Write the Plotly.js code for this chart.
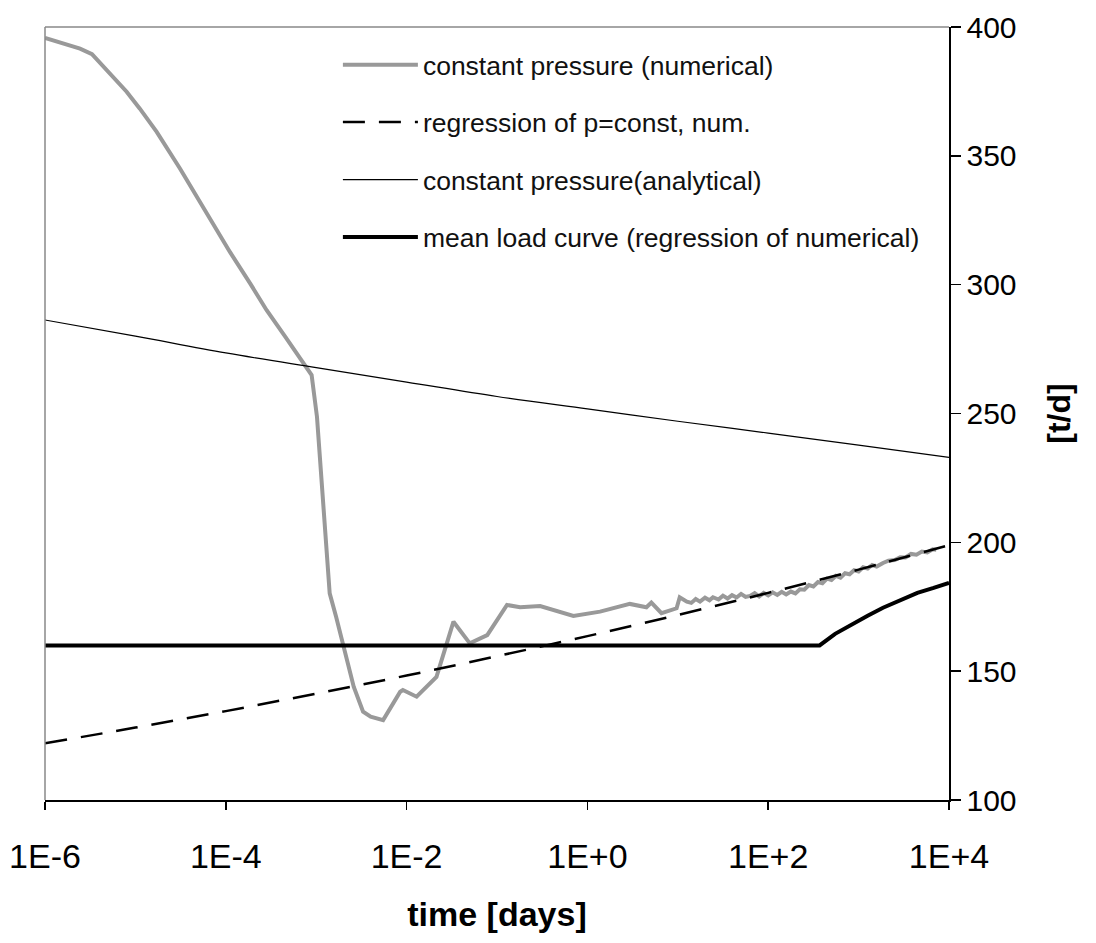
<!DOCTYPE html>
<html>
<head>
<meta charset="utf-8">
<script src="https://cdn.plot.ly/plotly-3.0.1.min.js"></script>
<style>
  html, body { margin: 0; padding: 0; background: #ffffff; }
  #chart { width: 1096px; height: 943px; }
</style>
</head>
<body>
<div id="chart"></div>
<script>
// ---- data ----
const seriesNames = [
  "constant pressure (numerical)",
  "regression of p=const, num.",
  "constant pressure(analytical)",
  "mean load curve (regression of numerical)"
];

// constant pressure (numerical) – time [days], rate [t/d]
const numTime = [
  1e-6, 1.54e-6, 2.44e-6, 3.31e-6, 4.61e-6, 8.0e-6, 1.12e-5, 1.72e-5, 3.11e-5, 4.56e-5,
  6.68e-5, 1.11e-4, 1.85e-4, 2.83e-4, 4.56e-4, 7.19e-4, 8.9e-4, 1.02e-3, 1.15e-3, 1.26e-3,
  1.35e-3, 1.41e-3, 1.66e-3, 2.0e-3, 2.6e-3, 3.3e-3, 4.0e-3, 5.5e-3, 8.5e-3, 9.1e-3,
  1.29e-2, 2.14e-2, 3.3e-2, 5.0e-2, 7.8e-2, 0.129, 0.18, 0.30, 0.50, 0.70,
  1.38, 2.95, 4.5, 5.1, 6.6, 9.7, 10.5, 12.6, 14.1, 15.8,
  17.6, 20, 22.4, 24.5, 28.2, 31.6, 35.5, 39.8, 44.7, 50.1,
  56.2, 63.1, 70.8, 79.4, 89.1, 100, 112, 126, 141, 158,
  178, 200, 224, 251, 282, 316, 355, 398, 447, 501,
  562, 631, 708, 794, 891, 1000, 1122, 1259, 1413, 1585,
  1862, 2138, 2512, 2884, 3311, 3802, 4365, 5012, 5754, 6607,
  7244
];
const numRate = [
  395.8, 393.8, 391.6, 389.5, 383.9, 374.9, 368.3, 359.3, 345.1, 335.2,
  325.5, 312.7, 300.6, 290.1, 279.7, 269.6, 264.9, 248.7, 222.9, 205,
  193.1, 180.2, 171.1, 159.5, 144, 134.3, 132.3, 131.0, 142.0, 142.7,
  140.1, 147.8, 169.2, 160.8, 164, 175.7, 174.8, 175.3, 173, 171.4,
  173.1, 176.1, 174.8, 176.6, 172.5, 174.4, 178.7, 177, 176.5, 178,
  177, 178.5, 177.5, 178.7, 177.8, 179.3, 178.2, 179.5, 178.6, 180,
  178.8, 179.2, 180.3, 179, 180.4, 179.4, 180.6, 179.6, 180.8, 179.8,
  180.9, 180.2, 181.8, 181.6, 183.4, 182.9, 184.6, 184.1, 185.9, 185.4,
  187, 186.3, 188, 187.6, 189.2, 188.7, 190.3, 189.8, 191.2, 190.6,
  192, 192.9, 193.1, 194.2, 194.1, 195.5, 195.2, 196.4, 196.1, 197.3,
  197.1
];

// regression of p=const, num.
const regTime = [1e-6, 1e-5, 1e-4, 1e-3, 1e-2, 1e-1, 1e0, 1e1, 1e2, 1e3, 1e4];
const regRate = [122, 128.1, 134.5, 141.3, 148.3, 155.8, 163.6, 171.8, 180.4, 189.4, 198.9];

// constant pressure (analytical)
const anaTime = [1e-6, 1e-5, 1e-4, 1e-3, 1e-2, 1e-1, 1e0, 1e1, 1e2, 1e3, 1e4];
const anaRate = [286.3, 280, 273.5, 267.8, 262.2, 256.6, 251.8, 247, 242.4, 237.7, 233];

// mean load curve (regression of numerical)
const meanTime = [1e-6, 370, 550, 794, 1259, 1862, 2818, 4467, 6761, 1e4];
const meanRate = [160, 160, 164.5, 167.8, 171.5, 174.6, 177.5, 180.4, 182.3, 184.3];

// axis ticks
const xTickVals = [1e-6, 1e-4, 1e-2, 1e0, 1e2, 1e4];
const xTickText = ["1E-6", "1E-4", "1E-2", "1E+0", "1E+2", "1E+4"];
const yTickVals = [100, 150, 200, 250, 300, 350, 400];

const xTitle = "time [days]";
const yTitle = "[t/d]";

// ---- chart ----
const FONT = "Liberation Sans, Arial, sans-serif";

const traces = [
  {
    x: numTime, y: numRate, name: seriesNames[0], type: "scatter", mode: "lines",
    line: { color: "#999999", width: 4 }, legendgroup: "a"
  },
  {
    x: regTime, y: regRate, name: seriesNames[1], type: "scatter", mode: "lines",
    line: { color: "#000000", width: 2.5, dash: "22px,14px", shape: "spline" }, legendgroup: "b"
  },
  {
    x: anaTime, y: anaRate, name: seriesNames[2], type: "scatter", mode: "lines",
    line: { color: "#000000", width: 1.2, shape: "spline" }, legendgroup: "c"
  },
  {
    x: meanTime, y: meanRate, name: seriesNames[3], type: "scatter", mode: "lines",
    line: { color: "#000000", width: 4 }, legendgroup: "d"
  }
];

const layout = {
  width: 1096, height: 943,
  margin: { l: 45, r: 147, t: 27, b: 143, pad: 0 },
  paper_bgcolor: "#ffffff", plot_bgcolor: "#ffffff",
  font: { family: FONT, color: "#000000" },
  showlegend: true,
  legend: {
    x: 0.324, y: 0.982, xanchor: "left", yanchor: "top",
    font: { family: FONT, size: 26.5, color: "#111111" },
    bgcolor: "rgba(0,0,0,0)", borderwidth: 0,
    traceorder: "grouped", tracegroupgap: 20, itemwidth: 75
  },
  xaxis: {
    type: "log", range: [-6, 4],
    tickmode: "array", tickvals: xTickVals, ticktext: xTickText,
    ticks: "outside", ticklen: 8, tickwidth: 1.5, tickcolor: "#000000",
    ticklabelstandoff: 18,
    showline: true, linecolor: "#000000", linewidth: 1.5,
    showgrid: false, zeroline: false,
    tickfont: { family: FONT, size: 34, color: "#000000" },
    title: { text: "<b>" + xTitle + "</b>", font: { family: FONT, size: 34, color: "#000000" }, standoff: 28 }
  },
  yaxis: {
    side: "right", range: [100, 400],
    tickmode: "array", tickvals: yTickVals,
    ticks: "outside", ticklen: 10, tickwidth: 1.5, tickcolor: "#000000",
    showline: true, linecolor: "#000000", linewidth: 1.5,
    showgrid: false, zeroline: false,
    tickfont: { family: FONT, size: 30, color: "#000000" },
    title: { text: "<b>" + yTitle + "</b>", font: { family: FONT, size: 32, color: "#000000" }, standoff: 32 }
  },
  shapes: [
    { type: "line", xref: "paper", yref: "paper", x0: 0, x1: 0, y0: 0, y1: 1, line: { color: "#888888", width: 1.5 } },
    { type: "line", xref: "paper", yref: "paper", x0: 0, x1: 1, y0: 1, y1: 1, line: { color: "#888888", width: 1.5 } }
  ]
};

Plotly.newPlot("chart", traces, layout, { displayModeBar: false, staticPlot: true });
</script>
</body>
</html>
